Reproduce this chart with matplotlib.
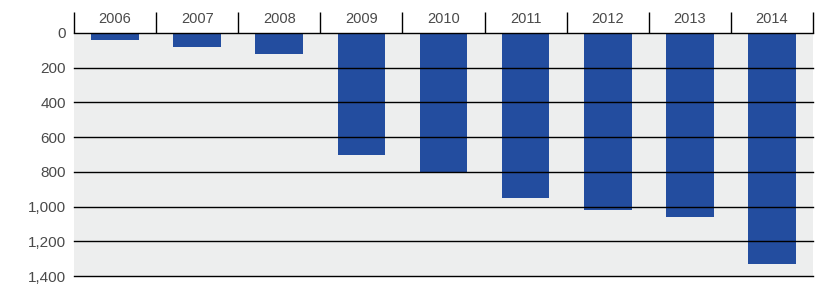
import matplotlib
matplotlib.use("Agg")
import matplotlib.pyplot as plt
import numpy as np

years = ["2006", "2007", "2008", "2009", "2010", "2011", "2012", "2013", "2014"]
values = [40, 80, 120, 700, 800, 950, 1020, 1060, 1330]
yticks = [0, 200, 400, 600, 800, 1000, 1200, 1400]
ytick_labels = ["0", "200", "400", "600", "800", "1,000", "1,200", "1,400"]

W, H = 834, 292
fig = plt.figure(figsize=(W / 100, H / 100), dpi=100)
ax = fig.add_axes([74 / W, 1 - 276 / H, (813 - 74) / W, (276 - 33) / H])
ax.set_facecolor("#EDEEEE")

x = np.arange(len(years))
ax.bar(x, values, width=0.58, color="#234D9F", zorder=2)

ax.set_xlim(-0.5, len(years) - 0.5)
ax.set_ylim(1400, 0)

for s in ["left", "right", "bottom"]:
    ax.spines[s].set_visible(False)
ax.spines["top"].set_color("black")
ax.spines["top"].set_linewidth(1.0)

for t in yticks[1:]:
    ax.axhline(t, color="black", lw=1.0, zorder=3, clip_on=False)

ax.set_yticks(yticks)
ax.set_yticklabels(ytick_labels)
ax.tick_params(axis="y", length=0, pad=6, labelsize=11, labelcolor="#4a4a4a")

ax.xaxis.tick_top()
ax.set_xticks(x)
ax.set_xticklabels(years)
ax.set_xticks(np.arange(-0.5, len(years)), minor=True)
ax.tick_params(axis="x", which="major", length=0, pad=5, labelsize=10.5, labelcolor="#4a4a4a")
ax.tick_params(axis="x", which="minor", length=15, width=1.0, color="black", top=True, bottom=False)

for lab in ax.get_xticklabels() + ax.get_yticklabels():
    lab.set_fontfamily("Liberation Sans")

fig.savefig("out.png", dpi=100)
